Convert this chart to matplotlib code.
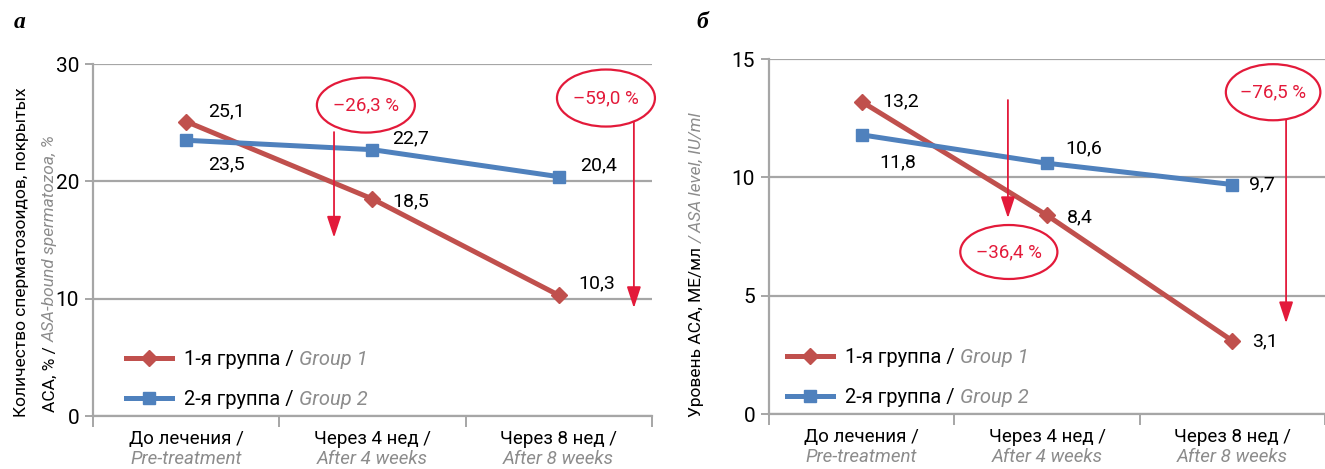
import matplotlib
matplotlib.use("Agg")
import matplotlib.pyplot as plt
from matplotlib.patches import Ellipse

plt.rcParams['font.family'] = ['Roboto', 'DejaVu Sans']

# data
categories = ["До лечения /", "Через 4 нед /", "Через 8 нед /"]
categories_en = ["Pre-treatment", "After 4 weeks", "After 8 weeks"]
labels_ru = ["1-я группа / ", "2-я группа / "]
labels_en = ["Group 1", "Group 2"]

a_group1 = [25.1, 18.5, 10.3]
a_group2 = [23.5, 22.7, 20.4]
b_group1 = [13.2, 8.4, 3.1]
b_group2 = [11.8, 10.6, 9.7]

a_changes = ["–26,3 %", "–59,0 %"]
b_changes = ["–36,4 %", "–76,5 %"]

RED = '#C0504D'
BLUE = '#4F81BD'
ACC = '#E31A3A'
GRID = '#A6A6A6'
GREY = '#8C8C8C'
FS_CAT = 13.5
FS_VAL = 14
FS_LEG = 14.5
FS_LAB = 12.5

fig = plt.figure(figsize=(13.25, 4.69), dpi=100)
ax1 = fig.add_axes([0.0702, 0.113, 0.4217, 0.7505])
ax2 = fig.add_axes([0.5804, 0.117, 0.4196, 0.757])


def setup(ax, ymax, step):
    x = range(len(categories))
    ax.set_xlim(-0.5, 2.5)
    ax.set_ylim(0, ymax)
    ax.set_yticks(range(0, ymax + 1, step))
    for s in ['top', 'right']:
        ax.spines[s].set_visible(False)
    for s in ['left', 'bottom']:
        ax.spines[s].set_color(GRID)
        ax.spines[s].set_linewidth(1.6)
    ax.yaxis.grid(True, color=GRID, lw=1.6)
    ax.set_axisbelow(True)
    ax.tick_params(axis='y', colors=GRID, length=6, width=1.4, labelcolor='black',
                   labelsize=15, pad=4)
    ax.set_xticks([-0.5, 0.5, 1.5, 2.5])
    ax.set_xticklabels([])
    ax.tick_params(axis='x', colors=GRID, length=8, width=1.4, direction='out')
    trans = ax.get_xaxis_transform()
    for i in x:
        ax.annotate(categories[i], xy=(i, 0), xycoords=trans, xytext=(0, -23),
                    textcoords='offset pixels', ha='center', va='center', fontsize=FS_CAT)
        ax.annotate(categories_en[i], xy=(i, 0), xycoords=trans, xytext=(0, -43),
                    textcoords='offset pixels', ha='center', va='center', fontsize=FS_CAT,
                    color=GREY, style='italic')


def plot_lines(ax, g1, g2, off1, off2, legend_anchor):
    x = range(len(categories))
    l1, = ax.plot(x, g1, color=RED, lw=3.6, marker='D', ms=8.5, zorder=3)
    l2, = ax.plot(x, g2, color=BLUE, lw=3.6, marker='s', ms=9, zorder=3)
    for xs, ys, offs in [(x, g1, off1), (x, g2, off2)]:
        for xi, yi, o in zip(xs, ys, offs):
            ax.annotate(f"{yi:.1f}".replace('.', ','), xy=(xi, yi), xytext=o,
                        textcoords='offset pixels', ha='left', va='center', fontsize=FS_VAL)
    leg = ax.legend([l1, l2], labels_ru, loc='lower left', bbox_to_anchor=legend_anchor,
                    frameon=False, fontsize=FS_LEG, handlelength=2.3, handletextpad=0.6,
                    labelspacing=1.05, borderpad=0, borderaxespad=0)
    for t, en in zip(leg.get_texts(), labels_en):
        ax.annotate(en, xy=(1, 0), xycoords=t, ha='left', va='bottom', fontsize=FS_LEG,
                    color=GREY, style='italic', zorder=10)


def change(ax, text, center, size, x, y0, y1):
    e = Ellipse(center, size[0], size[1], facecolor='white', edgecolor=ACC, lw=1.6,
                zorder=5, clip_on=False)
    ax.add_patch(e)
    ax.text(center[0], center[1], text, color=ACC, fontsize=FS_CAT, ha='center',
            va='center', zorder=6)
    ax.annotate('', xy=(x, y1), xytext=(x, y0), zorder=4,
                arrowprops=dict(arrowstyle='-|>,head_length=1.0,head_width=0.33',
                                mutation_scale=13, color=ACC, lw=1.3,
                                shrinkA=0, shrinkB=0))


# panel a
setup(ax1, 30, 10)
plot_lines(ax1, a_group1, a_group2,
           [(22, 10), (20, -2), (20, 12)],
           [(22, -24), (20, 11), (21, 11)],
           (0.059, 0.02))
change(ax1, a_changes[0], (0.965, 26.5), (0.526, 4.69), 0.794, 24.2, 15.2)
change(ax1, a_changes[1], (2.254, 27.1), (0.526, 4.86), 2.404, 25.1, 9.2)

# panel b
setup(ax2, 15, 5)
plot_lines(ax2, b_group1, b_group2,
           [(21, 0), (20, -2), (20, -1)],
           [(18, -28), (18, 15), (17, 0)],
           (0.032, 0.02))
change(ax2, b_changes[0], (0.794, 6.85), (0.524, 2.28), 0.789, 13.27, 8.28)
change(ax2, b_changes[1], (2.22, 13.6), (0.51, 2.37), 2.29, 12.45, 3.84)

# y labels
fig.text(22 / 1325, 1 - 252 / 469, "Количество сперматозоидов, покрытых", rotation=90,
         ha='center', va='center', fontsize=FS_LAB)
p1 = fig.text(50 / 1325, 1 - 412 / 469, "АСА, % / ", rotation=90, ha='center',
              va='bottom', fontsize=FS_LAB)
ax1.annotate("ASA-bound spermatozoa, %", xy=(0.5, 1), xycoords=p1, rotation=90,
             ha='center', va='bottom', fontsize=FS_LAB, color=GREY, style='italic',
             annotation_clip=False)

p2 = fig.text(697 / 1325, 1 - 417 / 469, "Уровень АСА, МЕ/мл ", rotation=90,
              ha='center', va='bottom', fontsize=FS_LAB)
ax2.annotate("/ ASA level, IU/ml", xy=(0.5, 1), xycoords=p2, rotation=90,
             ha='center', va='bottom', fontsize=FS_LAB, color=GREY, style='italic',
             annotation_clip=False)

# panel letters
fig.text(20 / 1325, 1 - 22 / 469, "а", fontsize=17, fontweight='bold', style='italic',
         family='Liberation Serif', ha='center', va='center')
fig.text(702 / 1325, 1 - 22 / 469, "б", fontsize=17, fontweight='bold', style='italic',
         family='Liberation Serif', ha='center', va='center')

fig.savefig("out.png", dpi=100)
